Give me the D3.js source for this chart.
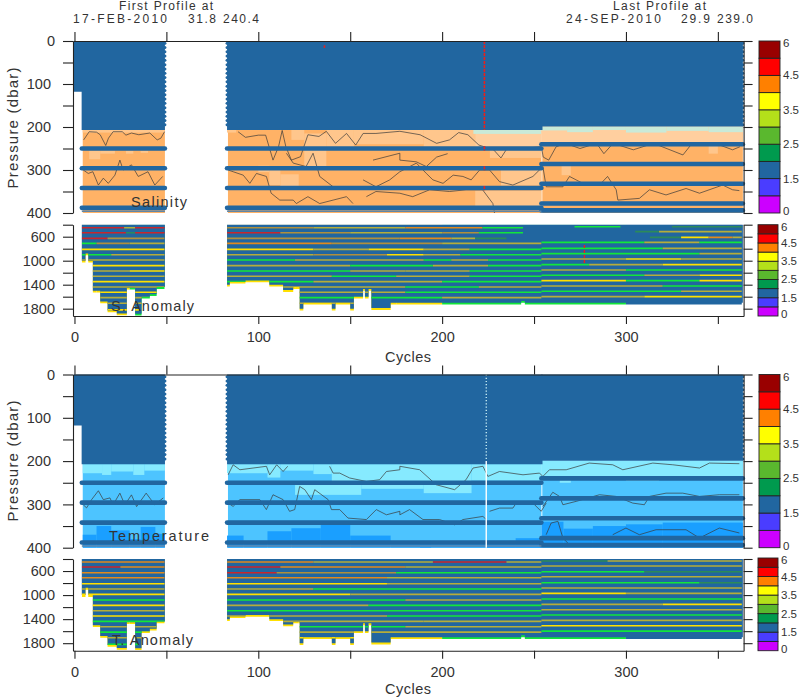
<!DOCTYPE html>
<html>
<head>
<meta charset="utf-8">
<script src="https://cdn.jsdelivr.net/npm/d3@7"></script>
<style>
  html, body { margin: 0; padding: 0; background: #fff; }
  svg text { font-family: "Liberation Sans", sans-serif; fill: #333; }
</style>
</head>
<body>
<div id="myPlot"></div>
<script>
// cycles with data, [first, last]
const blocks = [[4, 49.2], [83, 254], [254, 363.6]];
const cycleTicks = [0, 50, 100, 150, 200, 250, 300, 350];
const shallowTicks = [0, 50, 100, 150, 200, 250, 300, 350, 400];
const shallowLabels = [0, 100, 200, 300, 400];
const deepTicks = [400, 600, 800, 1000, 1200, 1400, 1600, 1800];
const deepLabels = [600, 1000, 1400, 1800];

// colour bar
const barColors = ["#cc00ff", "#4a3dff", "#2166a0", "#009a4e", "#5ab82e", "#b4e01a", "#ffff00", "#ff8000", "#ff0000", "#990000"];
const barLabels = [[0, "0"], [2, "1.5"], [4, "2.5"], [6, "3.5"], [8, "4.5"], [10, "6"]];

// solid blue (adjusted) part of the upper panels, [cycle, bottom pressure]
const solidPieces = [
  [[-0.5, 118], [3.9, 118], [3.9, 207], [49.2, 207]],
  [[83, 207], [254.6, 207]],
  [[254, 199], [363.6, 199]]
];
const edgeCycles = [49.2, 83, 363.6];
const edgeLevels = [5, 15, 25, 35, 45, 55, 65, 75, 85, 95, 105, 115, 125, 135, 145, 155, 165, 175, 185, 195];

// thick blue bands, pressure of each
const bandsBefore = [250, 296, 342, 388];
const bandsAfter = [240, 286, 332, 378, 394];
const thinBandBefore = 396;

// salinity patches [c0, c1, p0, p1, code]
const sPatches = [
  [4.5, 49.2, 207, 213, "P"], [8, 14, 255, 275, "P"], [14, 22, 254, 262, "P"], [28, 32, 255, 262, "P"], [36, 40, 255, 260, "P"],
  [83, 88, 207, 213, "P"], [100, 106, 290, 305, "P"], [106, 112, 300, 335, "P"], [112, 122, 310, 345, "P"], [118, 125, 207, 230, "P"],
  [125, 137, 215, 300, "P"], [137, 152, 207, 248, "P"], [152, 190, 207, 240, "P"], [190, 218, 207, 246, "P"],
  [218, 254, 207, 246, "Q"], [217, 254, 207, 216, "M"], [226, 254, 254, 272, "P"], [232, 254, 300, 336, "P"], [218, 254, 348, 384, "P"],
  [254, 363.6, 199, 236, "Q"], [254, 268, 199, 208, "M"], [268, 282, 199, 212, "M"], [282, 300, 199, 207, "M"], [300, 322, 199, 213, "M"],
  [322, 345, 199, 209, "M"], [345, 363.6, 199, 212, "M"], [265, 270, 290, 312, "P"], [345, 350, 244, 262, "P"]
];

// temperature patches
const tPatches = [
  [4.5, 15, 207, 228, "L"], [15, 20, 207, 232, "L"], [20, 32, 207, 224, "L"], [32, 38, 207, 232, "L"], [38, 49.2, 207, 222, "L"],
  [83, 105, 207, 228, "L"], [105, 112, 207, 238, "L"], [112, 130, 207, 222, "L"], [130, 140, 207, 230, "L"], [140, 216, 207, 247, "L"],
  [216, 254, 207, 245, "L"], [120, 156, 250, 278, "L"], [156, 190, 250, 264, "L"], [190, 216, 250, 274, "L"],
  [254, 363.6, 199, 236, "L"], [300, 318, 236, 246, "L"], [264, 270, 236, 250, "L"],
  [4.5, 12, 370, 400, "E"], [12, 20, 350, 400, "E"], [20, 30, 360, 400, "E"], [30, 36, 380, 400, "E"], [36, 44, 352, 400, "E"], [44, 49.2, 368, 400, "E"],
  [83, 92, 372, 400, "E"], [92, 105, 384, 400, "E"], [105, 118, 362, 400, "E"], [118, 134, 355, 400, "E"], [134, 150, 342, 400, "E"], [150, 172, 372, 400, "E"],
  [172, 254, 392, 400, "E"], [188, 194, 384, 400, "E"], [224, 240, 384, 400, "E"], [240, 254, 378, 400, "E"],
  [254, 266, 340, 400, "E"], [266, 282, 356, 400, "E"], [282, 300, 350, 400, "E"], [300, 320, 346, 400, "E"], [320, 363.6, 342, 400, "E"]
];

// contour lines, [cycle, pressure]
const sContourA = [[5, 230], [8, 211], [12, 212], [14, 218], [17, 243], [18.5, 226], [21, 211], [26, 211], [28, 219], [31, 214], [35, 218], [41, 214], [45, 230], [47, 226], [49, 211]];
const sContourB = [[4.8, 300], [7.5, 308], [10, 304], [13, 335], [15.7, 319], [18.4, 331], [22, 312], [24.7, 277], [26.5, 300], [31, 288], [34.7, 315], [40, 304], [43.7, 335], [48, 315]];
const sContourC = [[89, 211], [93, 224], [100, 219], [104, 219], [108, 277], [111, 246], [113, 208], [115, 246], [118, 277], [123, 269], [127, 218], [133, 222], [137, 210], [142, 238], [148, 215], [153, 242], [157, 215], [164, 215], [177, 210], [188, 218], [197, 238], [204, 230], [209, 213], [214, 218], [220, 242], [228, 253], [232, 272], [235, 252], [243, 250], [254, 246], [255, 270], [258, 277], [262, 246], [267, 238], [275, 250], [284, 238], [288, 262], [293, 238], [304, 253], [315, 238], [331, 265], [336, 238], [351, 242], [358, 253], [362, 246]];
const sContourD = [[83.6, 300], [86.3, 304], [91.8, 312], [95.4, 331], [99, 308], [104.4, 315], [107, 354], [111.7, 370], [119, 370], [120.7, 378], [127, 362], [133.4, 378], [140.7, 370], [148, 362], [151.5, 378]];
const sContourE = [[157, 323], [164, 339], [171.5, 323], [177, 304], [186, 284], [191.4, 308], [195, 323], [200.5, 331], [206, 312], [211.3, 315], [215.8, 323], [220.4, 300], [225.8, 300], [231.2, 327], [238.5, 335], [249.4, 315], [254.8, 292], [256.6, 339], [265.7, 339], [269.3, 315], [276.5, 331], [285.6, 335], [290, 315], [294.7, 346], [295.6, 370], [307.3, 366], [312.8, 346], [321.8, 358], [332.7, 343], [340, 354], [352.6, 335], [358, 346], [361.7, 348]];
const sContourF = [[158.8, 362], [164, 350], [177, 354], [184, 362], [193.2, 346], [204, 350], [213, 346], [222, 346], [227.6, 378], [228.5, 400]];
const sContourG = [[115.3, 261], [119, 284], [126, 292], [129.8, 261], [133.4, 315], [140.7, 339]];
const sContourH = [[162.4, 277], [177, 261], [177, 277], [186, 281], [191.4, 292], [197, 270], [203, 262]];
const sContours = [sContourA, sContourB, sContourC, sContourD, sContourE, sContourF, sContourG, sContourH];

// contour lines
const tContourA = [[83.6, 231.6], [86.3, 208.5], [90, 220], [104.4, 212], [106.2, 231.6], [110, 208.5], [113.5, 224], [116, 212]];
const tContourB = [[138.8, 212], [140.7, 227.7], [144.3, 227.7], [149.7, 239], [158.8, 247], [166, 243], [169.7, 224], [177, 220], [177, 212], [187.8, 220], [196.8, 254.6], [206.8, 266], [213, 243], [216.8, 216], [222.2, 212], [224.9, 235.4], [231.2, 224], [244, 231.6], [253, 227.7], [254.8, 235.4], [258.4, 220], [267.5, 220], [280, 204.6], [292.8, 208.5], [298.3, 220], [314.6, 204.6], [325.5, 208.5], [340, 216], [345.4, 204.6], [361.7, 206]];
const tContourC = [[4.8, 301], [6.6, 308], [9.3, 289], [13, 268.5], [15.7, 289], [19.3, 285], [21, 301], [24.7, 274], [27.4, 301], [31, 278], [33.8, 305], [39, 274], [43.7, 301], [48.3, 285]];
const tContourD = [[83.6, 297], [86.3, 304.6], [90, 289], [100.8, 289], [104.4, 312], [108, 277.7], [113.5, 289], [117, 316], [119.8, 312], [122.5, 258.5], [125.3, 266], [128.9, 289], [130.7, 266], [138, 289], [139.8, 312], [144.3, 312], [148.8, 331.6], [158.8, 335], [164.2, 312], [169.7, 324], [177, 316], [177, 324], [182.3, 312], [189.6, 335], [198.6, 335], [206.8, 347], [211.3, 335], [222.2, 327.7], [224, 335]];
const tContourE = [[225.8, 316], [231.2, 308.5], [238.5, 308.5], [240.3, 297], [249.4, 297], [253.9, 316], [256.6, 297]];
const tContourF = [[254.8, 304.6], [260.2, 272], [263.9, 281.6], [265.7, 300.8], [272.9, 293], [285.6, 277.7], [294.7, 281.6], [303.7, 297], [310, 300.8], [312.8, 281.6], [321.8, 274], [330.9, 274], [340, 281.6], [350.8, 277.7], [361.7, 277.7]];
const tContourG = [[256.6, 370], [259.3, 343], [263, 339], [265.7, 377.7], [269, 392], [280, 396]];
const tContourH = [[292.8, 370], [300, 354.6], [307.3, 370], [316.4, 358.5], [332.7, 358.5], [340, 377.7], [350.8, 354.6], [361.7, 366]];
const tContours = [tContourA, tContourB, tContourC, tContourD, tContourE, tContourF, tContourG, tContourH];

// profile depth of the lower panels, [cycle, pressure] (step after)
const depthSteps = [[4, 1000], [6, 880], [7.5, 1000], [10, 1500], [14, 1680], [18, 1830], [23, 1880], [28.5, 1450], [33, 1885], [36.5, 1600], [41, 1560], [44.7, 1440], [49.2, 1440],
  [83, 1400], [84.5, 1350], [93, 1330], [106, 1400], [113.5, 1490], [119, 1440], [122.5, 1800], [124.5, 1700], [140, 1800], [142, 1700], [150, 1800], [152, 1600], [157, 1470], [158, 1600], [160, 1470], [161.5, 1790], [172, 1700], [243, 1670], [245, 1700], [276, 1700], [363.6, 1700]];
const sEdgeRuns = [[4, 12, "Y"], [12, 30, "Y"], [30, 49, "G"], [83, 120, "Y"], [120, 175, "Y"], [175, 200, "Y"], [200, 300, "G"], [300, 363, "N"]];
const tEdgeRuns = [[4, 30, "Y"], [30, 49, "Y"], [83, 122, "Y"], [122, 160, "Y"], [160, 200, "Y"], [200, 300, "G"], [300, 363, "N"]];

// colour strips between the blue levels of the lower panels
const stripPressures = [450, 533, 628, 711, 811, 900, 988, 1083, 1171, 1260, 1349, 1438, 1527, 1616, 1710, 1820];
const sStrips = [
  [[4, 27, "R"], [27, 33, "V"], [33, 49, "R"], [83, 130, "B"], [130, 180, "V"], [180, 222, "O"], [222, 244, "G"], [272, 297, "G"], [325, 363, "D"]],
  [[4, 28, "R"], [28, 33, "D"], [33, 49, "R"], [83, 112, "R"], [112, 150, "B"], [150, 200, "V"], [200, 220, "B"], [220, 244, "G"], [305, 318, "D"], [318, 363, "V"]],
  [[4, 18, "R"], [18, 49, "B"], [83, 177, "B"], [177, 205, "O"], [205, 218, "V"], [218, 235, "D"], [313, 330, "D"], [330, 345, "Y"], [345, 358, "O"], [358, 363, "V"]],
  [[4, 12, "G"], [12, 30, "B"], [30, 49, "V"], [83, 140, "O"], [140, 200, "B"], [200, 254, "V"], [254, 310, "G"], [310, 340, "V"], [340, 363, "G"]],
  [[4, 49, "Y"], [83, 130, "Y"], [130, 160, "V"], [160, 190, "Y"], [190, 215, "V"], [215, 254, "G"], [254, 320, "G"], [320, 363, "V"]],
  [[4, 20, "G"], [20, 49, "V"], [83, 130, "V"], [130, 170, "B"], [170, 190, "Y"], [190, 210, "V"], [210, 254, "G"], [254, 340, "G"], [340, 363, "V"]],
  [[4, 49, "V"], [83, 120, "G"], [120, 190, "V"], [190, 205, "G"], [205, 225, "V"], [225, 254, "G"], [254, 300, "V"], [300, 330, "Y"], [330, 363, "V"]],
  [[4, 49, "Y"], [83, 150, "V"], [150, 195, "G"], [195, 225, "V"], [225, 254, "G"], [254, 280, "G"], [280, 320, "V"], [320, 363, "Y"]],
  [[4, 30, "V"], [30, 49, "Y"], [83, 150, "G"], [150, 180, "V"], [180, 215, "V"], [215, 254, "G"], [254, 300, "V"], [300, 363, "G"]],
  [[4, 49, "V"], [83, 140, "V"], [140, 175, "G"], [175, 215, "V"], [215, 254, "G"], [254, 310, "G"], [310, 340, "V"], [340, 363, "Y"]],
  [[4, 49, "Y"], [83, 130, "G"], [130, 200, "V"], [200, 254, "G"], [254, 300, "Y"], [300, 340, "G"], [340, 363, "Y"]],
  [[4, 49, "V"], [83, 180, "V"], [180, 220, "G"], [220, 254, "V"], [254, 320, "V"], [320, 363, "G"]],
  [[4, 49, "Y"], [122, 180, "V"], [180, 254, "G"], [254, 330, "G"], [330, 363, "V"]],
  [[4, 49, "V"], [122, 200, "G"], [200, 254, "V"], [254, 310, "V"], [310, 363, "Y"]],
  [[14, 49, "V"], [122, 160, "V"]],
  [[18, 35, "Y"]]
];
const tStrips = [
  [[4, 49, "O"], [83, 130, "O"], [130, 195, "V"], [195, 235, "R"], [235, 254, "V"], [254, 290, "D"], [290, 363, "V"]],
  [[4, 25, "R"], [25, 49, "O"], [83, 112, "R"], [112, 180, "O"], [180, 254, "V"], [254, 363, "V"]],
  [[4, 49, "O"], [83, 110, "R"], [110, 175, "B"], [175, 254, "G"], [254, 310, "G"], [310, 363, "D"]],
  [[4, 49, "O"], [83, 170, "O"], [170, 254, "V"], [254, 363, "V"]],
  [[4, 49, "Y"], [83, 170, "Y"], [170, 254, "V"], [254, 340, "G"], [340, 363, "D"]],
  [[4, 49, "V"], [83, 130, "V"], [130, 254, "G"], [254, 363, "V"]],
  [[4, 49, "Y"], [83, 150, "Y"], [150, 254, "V"], [254, 300, "Y"], [300, 363, "V"]],
  [[4, 49, "G"], [83, 180, "G"], [180, 254, "V"], [254, 363, "G"]],
  [[4, 49, "Y"], [83, 160, "V"], [160, 254, "G"], [254, 320, "V"], [320, 363, "Y"]],
  [[4, 49, "V"], [83, 254, "G"], [254, 363, "V"]],
  [[4, 49, "Y"], [83, 170, "V"], [170, 254, "G"], [254, 363, "G"]],
  [[4, 49, "G"], [83, 190, "V"], [190, 254, "V"], [254, 363, "V"]],
  [[4, 49, "V"], [122, 180, "G"], [180, 254, "V"], [254, 363, "Y"]],
  [[4, 49, "G"], [122, 254, "V"], [254, 363, "G"]],
  [[14, 49, "V"], [122, 160, "Y"]],
  [[18, 35, "G"]]
];

// red flags and white gaps, [cycle, first pressure, last pressure]
const sRedMarks = [[223, 0, 207], [223, 245, 255], [223, 291, 301], [223, 337, 347], [136, 10, 16]];
const sDeepRedMarks = [[277.4, 740, 1040]];
const tWhiteDots = [[224, 0, 200]];
const tWhiteLine = [[224, 200, 400]];

// header texts, [text, x, baseline, width]
const headerTexts = [
  ["First Profile at", 119, 10, 94], ["17-FEB-2010", 73, 23, 94], ["31.8", 188, 23, 28], ["240.4", 223, 23, 36],
  ["Last Profile at", 613, 10, 93], ["24-SEP-2010", 566, 23, 95], ["29.9", 681, 23, 29], ["239.0", 717, 23, 36]
];
const panelTexts = [
  ["Salinity", 131, 207, 56], ["S. Anomaly", 111, 311, 83], ["Temperature", 109, 541, 100], ["T. Anomaly", 112, 645, 81]
];

const W = 800, H = 700;
const blue = "#2166a0";
const codeColor = d3.scaleOrdinal()
  .domain(["R", "O", "B", "V", "Y", "G", "D", "N", "P", "Q", "M", "L", "E"])
  .range(["#c8262c", "#e08a1e", "#b08f3c", "#b5ad3a", "#ffe000", "#12e63a", "#2c8a5a", blue, "#ffc68c", "#ffcf9f", "#c9ead8", "#86eaff", "#1a9fff"]);

const svg = d3.select("#myPlot").append("svg").attr("width", W).attr("height", H);

const x = d3.scaleLinear().domain([-0.8, 364]).range([73, 743.6]);

function drawAxes(y, ticks, labels, labelX) {
  const left = svg.append("g").attr("transform", "translate(" + x.range()[0] + ",0)")
    .call(d3.axisLeft(y).tickValues(ticks).tickSize(10).tickSizeOuter(0).tickFormat(d => labels.includes(d) ? d : ""));
  const right = svg.append("g").attr("transform", "translate(" + x.range()[1] + ",0)")
    .call(d3.axisRight(y).tickValues(ticks).tickSize(9).tickSizeOuter(0).tickFormat(""));
  left.selectAll("text").attr("x", d => d == 0 ? -18 : labelX).attr("font-size", 14.5);
  [left, right].forEach(g => g.selectAll("path,line").attr("stroke", "#222").attr("stroke-width", 1.1));
}

function drawTopAxis(yTop) {
  const g = svg.append("g").attr("transform", "translate(0," + yTop + ")")
    .call(d3.axisTop(x).tickValues(cycleTicks).tickSize(9).tickSizeOuter(0).tickFormat(""));
  g.selectAll("path,line").attr("stroke", "#222").attr("stroke-width", 1.1);
}

function drawBottomAxis(yBottom, titleY) {
  const g = svg.append("g").attr("transform", "translate(0," + yBottom + ")")
    .call(d3.axisBottom(x).tickValues(cycleTicks).tickSize(8).tickSizeOuter(0).tickFormat(d => d % 100 == 0 ? d : ""));
  g.selectAll("path,line").attr("stroke", "#222").attr("stroke-width", 1.1);
  g.selectAll("text").attr("font-size", 14.5).attr("y", 16);
  svg.append("text").attr("x", 408).attr("y", titleY).attr("text-anchor", "middle").attr("font-size", 14.5)
    .attr("textLength", 46).text("Cycles");
}

function drawColorBar(x0, x1, y0, y1) {
  const pos = d3.scaleLinear().domain([0, 10]).range([y1, y0]);
  svg.append("g").selectAll("rect").data(barColors).enter().append("rect")
    .attr("x", x0).attr("width", x1 - x0)
    .attr("y", (d, i) => pos(i + 1)).attr("height", (d, i) => pos(i) - pos(i + 1))
    .attr("fill", d => d).attr("stroke", "#222").attr("stroke-width", 0.9);
  svg.append("g").selectAll("text").data(barLabels).enter().append("text")
    .attr("x", x1 + 3).attr("y", d => pos(d[0]) + (d[0] == 0 ? 2 : d[0] == 10 ? 6 : 4)).attr("font-size", 11.5)
    .text(d => d[1]);
}

function drawUpper(y, baseColor, patches, contours) {
  const g = svg.append("g");
  // coloured layer below the solid part
  g.selectAll(".base").data(blocks).enter().append("rect")
    .attr("x", d => x(d[0] + 0.5)).attr("width", d => x(d[1]) - x(d[0] + 0.5))
    .attr("y", y(199)).attr("height", y(400) - y(199)).attr("fill", baseColor);
  g.selectAll(".patch").data(patches).enter().append("rect")
    .attr("x", d => x(d[0])).attr("width", d => x(d[1]) - x(d[0]))
    .attr("y", d => y(d[2])).attr("height", d => y(d[3]) - y(d[2]))
    .attr("fill", d => codeColor(d[4]));
  // contours
  const line = d3.line().x(d => x(d[0])).y(d => y(d[1]));
  g.selectAll(".contour").data(contours).enter().append("path")
    .attr("d", line).attr("fill", "none").attr("stroke", "#3a3a3a").attr("stroke-width", 0.7);
  // solid blue part
  const solid = d3.area().x(d => x(d[0])).y0(y(0)).y1(d => y(d[1]));
  solidPieces.forEach(p => {
    g.append("path").datum(p).attr("d", solid).attr("fill", blue);
  });
  edgeCycles.forEach(c => {
    g.selectAll(null).data(edgeLevels).enter().append("circle")
      .attr("cx", x(c)).attr("cy", d => y(d)).attr("r", 1.5).attr("fill", blue);
  });
  // bands
  const bandRows = [];
  [blocks[0], blocks[1]].forEach(b => bandsBefore.forEach(p => bandRows.push([b[0], b[1], p])));
  bandsAfter.forEach(p => bandRows.push([blocks[2][0], blocks[2][1], p]));
  g.selectAll(".band").data(bandRows).enter().append("line")
    .attr("x1", d => x(d[0])).attr("x2", d => x(d[1]))
    .attr("y1", d => y(d[2])).attr("y2", d => y(d[2]))
    .attr("stroke", blue).attr("stroke-width", 4.6).attr("stroke-linecap", "round");
  g.selectAll(".thin").data([blocks[0], blocks[1]]).enter().append("line")
    .attr("x1", d => x(d[0])).attr("x2", d => x(d[1]))
    .attr("y1", y(thinBandBefore)).attr("y2", y(thinBandBefore))
    .attr("stroke", "#5f86a8").attr("stroke-width", 1.4);
}

function drawLower(y, strips, edgeRuns, clipId) {
  const g = svg.append("g");
  const blockCuts = [[4, 49.3], [83, 363.7]];
  // clip shapes follow the profile depth of each block
  const area = d3.area().x(d => x(d[0])).y0(y(400)).y1(d => y(d[1])).curve(d3.curveStepAfter);
  const depthBlocks = blockCuts.map(c => depthSteps.filter(d => d[0] >= c[0] && d[0] <= c[1]));
  const edgeArea = d3.area().x(d => x(d[0])).y0(y(400)).y1(d => y(d[1] + 30)).curve(d3.curveStepAfter);
  const defs = svg.append("defs");
  defs.append("clipPath").attr("id", clipId + "e").selectAll("path").data(depthBlocks).enter().append("path").attr("d", edgeArea);
  defs.append("clipPath").attr("id", clipId).selectAll("path").data(depthBlocks).enter().append("path").attr("d", area);
  g.append("g").attr("clip-path", "url(#" + clipId + "e)").selectAll("rect").data(edgeRuns).enter().append("rect")
    .attr("x", d => x(d[0])).attr("width", d => x(d[1]) - x(d[0]))
    .attr("y", y(400)).attr("height", y.range()[1] - y(400))
    .attr("fill", d => codeColor(d[2]));
  g.selectAll(".depth").data(depthBlocks).enter().append("path")
    .attr("d", area).attr("fill", blue);
  const stripG = g.append("g").attr("clip-path", "url(#" + clipId + ")");
  strips.forEach((runs, i) => {
    stripG.selectAll(null).data(runs).enter().append("line")
      .filter(d => d[2] != "N")
      .attr("x1", d => x(d[0])).attr("x2", d => x(d[1]))
      .attr("y1", d => y(stripPressures[i] - (d[0] >= 254 ? 17 : 0)))
      .attr("y2", d => y(stripPressures[i] - (d[0] >= 254 ? 17 : 0)))
      .attr("stroke", d => codeColor(d[2])).attr("stroke-width", 1.6);
  });
}

function drawMarks(y, marks, color, dash, width) {
  svg.append("g").selectAll("line").data(marks).enter().append("line")
    .attr("x1", d => x(d[0])).attr("x2", d => x(d[0]))
    .attr("y1", d => y(d[1])).attr("y2", d => y(d[2]))
    .attr("stroke", color).attr("stroke-width", width).attr("stroke-dasharray", dash);
}

// panel 1, salinity
const y1 = d3.scaleLinear().domain([0, 400]).range([41, 213]);
drawUpper(y1, "#ffb266", sPatches, sContours);
drawMarks(y1, sRedMarks, "#e8201c", "3 1", 1.6);
drawAxes(y1, shallowTicks, shallowLabels, -22);
drawTopAxis(41);
drawColorBar(759, 780, 41, 213);

// panel 2, salinity anomaly
const y2 = d3.scaleLinear().domain([400, 1922]).range([224.7, 316]);
drawLower(y2, sStrips, sEdgeRuns, "c2");
drawMarks(y2, sDeepRedMarks, "#e8201c", "3 2", 1.4);
drawAxes(y2, deepTicks, deepLabels, -18);
drawBottomAxis(316, 362);
drawColorBar(758, 778, 224.7, 316);

// panel 3, temperature
const y3 = d3.scaleLinear().domain([0, 400]).range([374.5, 547.7]);
drawUpper(y3, "#4dc4ff", tPatches, tContours);
drawMarks(y3, tWhiteDots, "#dff", "1.2 2", 1.2);
drawMarks(y3, tWhiteLine, "#fff", null, 1.4);
drawAxes(y3, shallowTicks, shallowLabels, -22);
drawTopAxis(374.5);
drawColorBar(759, 780, 374.5, 547.7);

// panel 4, temperature anomaly
const y4 = d3.scaleLinear().domain([400, 1925]).range([559, 650.7]);
drawLower(y4, tStrips, tEdgeRuns, "c4");
drawAxes(y4, deepTicks, deepLabels, -18);
drawBottomAxis(650.7, 694);
drawColorBar(758, 778, 558, 650.7);

// text
[128, 461].forEach(cy => {
  svg.append("text").attr("transform", "translate(18," + cy + ") rotate(-90)").attr("text-anchor", "middle")
    .attr("font-size", 15).attr("textLength", 121).text("Pressure (dbar)");
});
svg.append("g").selectAll("text").data(headerTexts).enter().append("text")
  .attr("x", d => d[1]).attr("y", d => d[2]).attr("font-size", 12)
  .attr("textLength", d => d[3]).text(d => d[0]);
svg.append("g").selectAll("text").data(panelTexts).enter().append("text")
  .attr("x", d => d[1]).attr("y", d => d[2]).attr("font-size", 14.5)
  .attr("textLength", d => d[3]).text(d => d[0]);
</script>
</body>
</html>
